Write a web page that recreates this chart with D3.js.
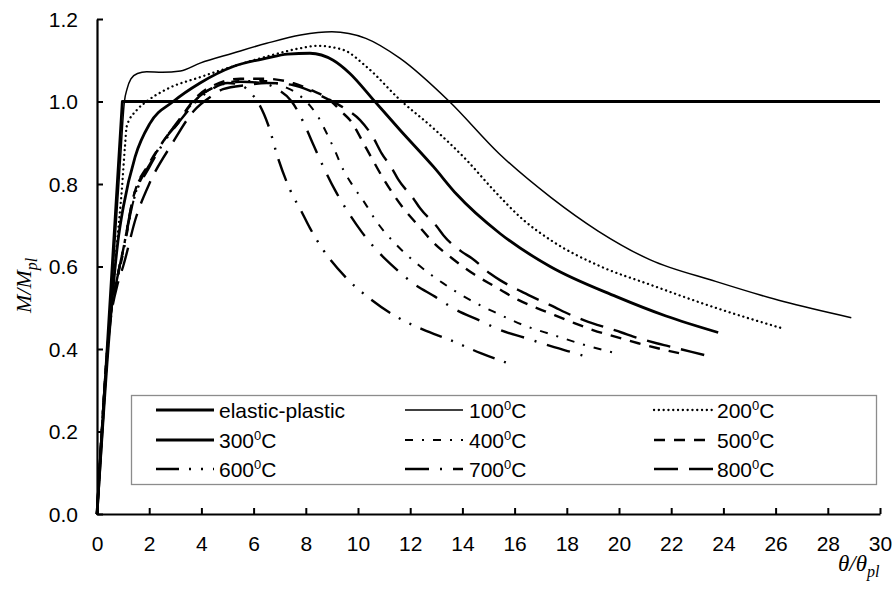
<!DOCTYPE html>
<html><head><meta charset="utf-8">
<script src="https://cdn.jsdelivr.net/npm/d3@7"></script>
<style>body{margin:0;background:#fff}svg{display:block}</style>
</head><body><svg id="chart" width="894" height="592"></svg>
<script>
// ---- data ----
const xTicks = [0,2,4,6,8,10,12,14,16,18,20,22,24,26,28,30];
const yTicks = [0,0.2,0.4,0.6,0.8,1.0,1.2];
const seriesNames = ["elastic-plastic","100","200","300","400","500","600","700","800"];

const elasticPlastic = [[0,0],[0.97,1],[30,1]];
const t100 = [[0,0],[0.5,0.48],[0.9,0.86],[1.05,1.0],[1.15,1.03],[1.3,1.055],[1.55,1.068],[1.9,1.072],[2.5,1.071],[3.2,1.074],[3.95,1.093],[5.2,1.117],[6.5,1.141],[7.8,1.161],[9,1.169],[10.3,1.153],[11.6,1.105],[13.5,1.0],[15.4,0.874],[17.4,0.767],[19.2,0.686],[21.2,0.616],[23.7,0.564],[26.3,0.515],[28.9,0.476]];
const t200 = [[0,0],[0.5,0.47],[0.8,0.68],[0.95,0.785],[1.07,0.89],[1.14,0.94],[1.52,0.979],[1.9,1.0],[2.67,1.03],[3.95,1.059],[5.21,1.085],[6.5,1.109],[7.78,1.129],[8.42,1.135],[9.44,1.125],[10.33,1.084],[11.61,1.004],[12.89,0.935],[14.16,0.858],[15.2,0.785],[16.3,0.715],[17.48,0.66],[19.3,0.6],[21.19,0.556],[23.74,0.499],[26.26,0.45]];
const t300 = [[0,0],[0.5,0.46],[0.8,0.66],[1.01,0.745],[1.46,0.866],[2.03,0.947],[2.92,1.0],[3.95,1.045],[5.22,1.085],[6.5,1.105],[7.3,1.115],[8.16,1.117],[9.05,1.1],[9.69,1.068],[10.59,1.004],[11.61,0.931],[12.89,0.842],[13.78,0.775],[15.44,0.68],[17.36,0.6],[19.9,0.527],[21.8,0.48],[23.8,0.44]];
const t400 = [[0,0],[0.5,0.47],[0.75,0.56],[1.0,0.63],[1.4,0.76],[2,0.845],[2.5,0.9],[3.2,0.96],[3.8,1.005],[4.5,1.035],[5.5,1.05],[6.5,1.05],[7.2,1.035],[7.65,1.02],[8.16,0.99],[8.5,0.96],[8.8,0.923],[9.12,0.88],[9.44,0.834],[9.82,0.794],[10.27,0.753],[10.71,0.709],[11.48,0.652],[12.31,0.604],[13.27,0.559],[14.29,0.519],[15.31,0.487],[16.33,0.458],[17.48,0.434],[18.57,0.412],[20.0,0.388]];
const t500 = [[0,0],[0.5,0.47],[0.8,0.58],[1.0,0.64],[1.4,0.77],[2,0.85],[2.5,0.9],[3.2,0.96],[3.8,1.01],[4.5,1.04],[5.5,1.055],[6.5,1.055],[7.5,1.045],[8.3,1.025],[8.9,1.005],[9.37,0.975],[9.69,0.955],[10.33,0.885],[11.0,0.81],[11.74,0.741],[12.3,0.7],[12.89,0.658],[13.6,0.62],[14.45,0.581],[15.2,0.553],[16.14,0.519],[17.42,0.485],[18.2,0.465],[19.0,0.446],[19.85,0.43],[20.74,0.414],[21.6,0.4],[22.3,0.39]];
const t600 = [[0,0],[0.5,0.47],[0.8,0.58],[1.0,0.64],[1.4,0.76],[2,0.84],[2.5,0.895],[3.2,0.955],[3.8,1.0],[4.4,1.03],[5.0,1.045],[5.5,1.04],[5.9,1.02],[6.15,1.0],[6.56,0.943],[6.95,0.86],[7.5,0.772],[7.78,0.74],[8.16,0.693],[8.67,0.64],[9.57,0.571],[10.5,0.52],[11.48,0.478],[12.5,0.447],[13.52,0.422],[14.7,0.39],[15.95,0.361]];
const t700 = [[0,0],[0.5,0.47],[0.8,0.58],[1.0,0.64],[1.4,0.77],[2,0.845],[2.5,0.9],[3.2,0.955],[3.8,1.005],[4.5,1.035],[5.5,1.048],[6.3,1.045],[6.9,1.03],[7.46,1.0],[7.9,0.951],[8.29,0.895],[8.67,0.842],[9.12,0.785],[9.57,0.737],[10.14,0.684],[10.71,0.64],[11.42,0.596],[12.12,0.559],[12.95,0.527],[13.72,0.496],[14.67,0.469],[15.44,0.446],[16.46,0.426],[17.23,0.41],[18.25,0.391],[19.0,0.377]];
const t800 = [[0,0],[0.5,0.46],[0.8,0.56],[1.0,0.6],[1.5,0.72],[2,0.8],[2.9,0.9],[3.68,0.975],[4.44,1.015],[4.83,1.03],[5.75,1.04],[6.5,1.045],[7.5,1.04],[8.2,1.025],[8.8,1.007],[9.5,0.983],[10.08,0.955],[10.57,0.914],[10.9,0.875],[11.3,0.838],[11.54,0.811],[12.12,0.765],[12.38,0.741],[13.02,0.697],[13.27,0.676],[13.97,0.636],[14.36,0.62],[15.06,0.583],[15.44,0.567],[16.27,0.539],[16.66,0.527],[17.55,0.501],[17.93,0.489],[18.82,0.466],[19.2,0.458],[20.1,0.44],[20.55,0.43],[21.44,0.414],[21.89,0.407],[22.78,0.393],[23.42,0.383]];

const seriesData = [elasticPlastic,t100,t200,t300,t400,t500,t600,t700,t800];

// ---- styles ----
const styles = [
  {w:2.8, dash:null, cap:"butt", linear:true},
  {w:1.5, dash:null, cap:"butt"},
  {w:2.3, dash:"0.1,4.7", cap:"round"},
  {w:2.8, dash:null, cap:"butt"},
  {w:2.0, dash:"8,9,2,9", cap:"butt"},
  {w:2.4, dash:"11,9", cap:"butt"},
  {w:2.4, dash:"23,10,2,10,2,10", cap:"butt"},
  {w:2.4, dash:"24,11,2,11", cap:"butt"},
  {w:2.4, dash:"24,11", cap:"butt"}
];

const svg = d3.select("#chart");
const L=97, R=880, T=19, B=514;
const x = d3.scaleLinear().domain([0,30]).range([L,R]);
const y = d3.scaleLinear().domain([0,1.2]).range([B,T]);
const FONT = "'Liberation Sans', Arial, sans-serif";
const FS = "21px";

// series
const lineSmooth = d3.line().x(d=>x(d[0])).y(d=>y(d[1])).curve(d3.curveMonotoneX);
const lineLin = d3.line().x(d=>x(d[0])).y(d=>y(d[1]));
seriesData.forEach((s,i)=>{
  const st = styles[i];
  svg.append("path").attr("d",(st.linear?lineLin:lineSmooth)(s))
    .attr("fill","none").attr("stroke","#000").attr("stroke-width",st.w)
    .attr("stroke-dasharray",st.dash).attr("stroke-linecap",st.cap)
    .attr("stroke-linejoin","round");
});

// axes
const xAxis = d3.axisBottom(x).tickValues(xTicks).tickFormat(d3.format("d"))
  .tickSizeInner(-6).tickSizeOuter(0).tickPadding(22);
const yAxis = d3.axisLeft(y).tickValues(yTicks).tickFormat(d3.format(".1f"))
  .tickSizeInner(-6).tickSizeOuter(0).tickPadding(19);
const gx = svg.append("g").attr("transform",`translate(0,${B})`).call(xAxis);
const gy = svg.append("g").attr("transform",`translate(${L},0)`).call(yAxis);
[gx,gy].forEach(g=>{
  g.select(".domain").attr("stroke","#000").attr("stroke-width",2.2);
  g.selectAll(".tick line").attr("stroke","#000").attr("stroke-width",2);
  g.selectAll(".tick text").attr("fill","#000").style("font-family",FONT).style("font-size",FS);
});
gy.selectAll(".tick text").attr("dy","0.35em");

// axis titles
const yt = svg.append("text").attr("transform","translate(31,313) rotate(-90)")
  .style("font-family","'Liberation Serif','Times New Roman',serif").style("font-style","italic").style("font-size","22px");
yt.append("tspan").text("M/M");
yt.append("tspan").text("pl").attr("dy",6).style("font-size","16px");
const xt = svg.append("text").attr("x",838).attr("y",571)
  .style("font-family","'Liberation Serif','Times New Roman',serif").style("font-style","italic").style("font-size","23px");
xt.append("tspan").text("θ/θ");
xt.append("tspan").text("pl").attr("dy",6).style("font-size","16px");

// legend
svg.append("rect").attr("x",131.5).attr("y",395.5).attr("width",745).attr("height",89)
  .attr("fill","#fff").attr("stroke","#8c8c8c").attr("stroke-width",1.3);
const colLine = [[156,214],[405,463],[654,713]];
const colText = [219,469,717];
const rowY = [410,440,469];
seriesNames.forEach((n,i)=>{
  const r = Math.floor(i/3), c = i%3, st = styles[i];
  svg.append("line").attr("x1",colLine[c][0]).attr("x2",colLine[c][1])
    .attr("y1",rowY[r]).attr("y2",rowY[r])
    .attr("stroke","#000").attr("stroke-width",st.w).attr("stroke-dasharray",st.dash)
    .attr("stroke-linecap",st.cap);
  const t = svg.append("text").attr("x",colText[c]).attr("y",rowY[r]+7.5)
    .style("font-family",FONT).style("font-size",FS);
  if(i===0){ t.text(n); }
  else {
    t.append("tspan").text(n);
    t.append("tspan").text("0").attr("dy",-8).style("font-size","13px");
    t.append("tspan").text("C").attr("dy",8);
  }
});
</script>
</body></html>
